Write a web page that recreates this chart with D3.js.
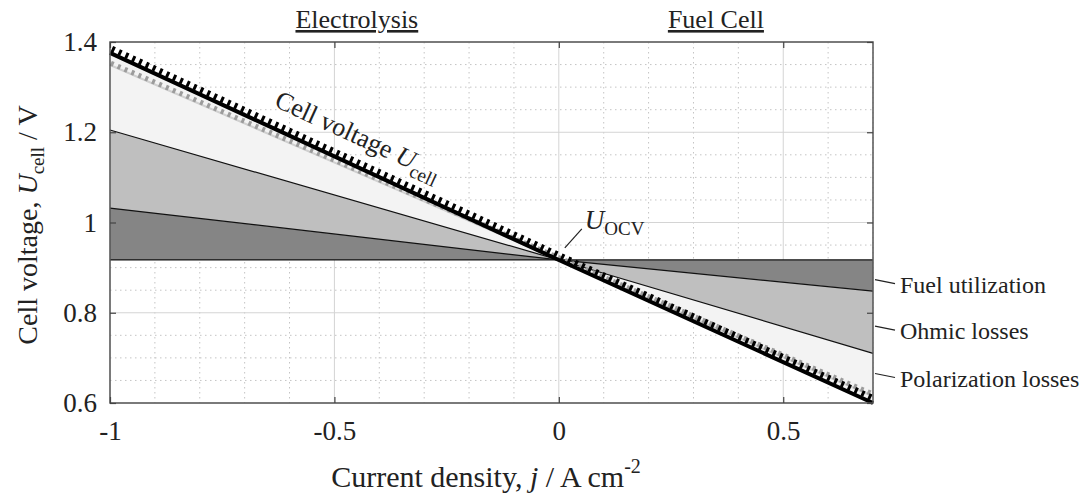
<!DOCTYPE html>
<html>
<head>
<meta charset="utf-8">
<script src="https://cdn.jsdelivr.net/npm/d3@7"></script>
<style>
  body { margin: 0; background: #fff; }
  text { font-family: "Liberation Serif", "Times New Roman", serif; fill: #222; }
</style>
</head>
<body>
<svg id="chart" width="1085" height="498"></svg>
<script>
// current density j (A cm^-2) at the three break points of the diagram
const currentDensity = [-1, 0, 0.7];
// voltages (V)
const ocvVoltage = [0.917, 0.917, 0.917];
const fuelUtilVoltage = [1.032, 0.917, 0.848];
const ohmicVoltage = [1.205, 0.917, 0.710];
const cellVoltage = [1.376, 0.917, 0.600];
const refVoltage = [1.349, 0.917, 0.615];

const xTicks = [-1, -0.5, 0, 0.5];
const xTickLabels = ['-1', '-0.5', '0', '0.5'];
const yTicks = [0.6, 0.8, 1, 1.2, 1.4];
const yTickLabels = ['0.6', '0.8', '1', '1.2', '1.4'];

const modeNames = ['Electrolysis', 'Fuel Cell'];
const modeCenters = [-0.45, 0.35];
const lossNames = ['Fuel utilization', 'Ohmic losses', 'Polarization losses'];
const lossLabelAt = [0.88, 0.777, 0.672]; // voltage where each leader meets the frame

const svg = d3.select('#chart');
const plotL = 110, plotR = 873, plotT = 42, plotB = 403;

const x = d3.scaleLinear().domain([-1, 0.7]).range([plotL, plotR]);
const y = d3.scaleLinear().domain([0.6, 1.4]).range([plotB, plotT]);

const pts = (vals) => currentDensity.map((j, i) => ({ j, v: vals[i] }));

// grid
let grid = svg.append('g');
x.ticks(17).forEach(t => {
	let major = xTicks.some(m => Math.abs(m - t) < 1e-9);
	grid.append('line')
		.attr('x1', x(t)).attr('x2', x(t)).attr('y1', plotT).attr('y2', plotB)
		.attr('stroke', major ? '#d4d4d4' : '#c4c4c4')
		.attr('stroke-width', 1)
		.attr('stroke-dasharray', major ? null : '1.5,3.5');
});
y.ticks(16).forEach(t => {
	let major = yTicks.some(m => Math.abs(m - t) < 1e-9);
	grid.append('line')
		.attr('x1', plotL).attr('x2', plotR).attr('y1', y(t)).attr('y2', y(t))
		.attr('stroke', major ? '#d4d4d4' : '#c4c4c4')
		.attr('stroke-width', 1)
		.attr('stroke-dasharray', major ? null : '1.5,3.5');
});

// shaded loss regions
const band = (lo, hi) => d3.area()
	.x((d, i) => x(currentDensity[i]))
	.y0((d, i) => y(lo[i]))
	.y1((d, i) => y(hi[i]))(currentDensity);

svg.append('path').attr('d', band(ohmicVoltage, cellVoltage)).attr('fill', '#f3f3f3');
svg.append('path').attr('d', band(fuelUtilVoltage, ohmicVoltage)).attr('fill', '#bfbfbf');
svg.append('path').attr('d', band(ocvVoltage, fuelUtilVoltage)).attr('fill', '#858585');

const line = d3.line().x(d => x(d.j)).y(d => y(d.v));

[ocvVoltage, fuelUtilVoltage, ohmicVoltage].forEach(vals => {
	svg.append('path').attr('d', line(pts(vals)))
		.attr('fill', 'none').attr('stroke', '#111').attr('stroke-width', 1.2);
});

// unit normal pointing up-right of the cell voltage line (pixel space)
let dx = x(currentDensity[2]) - x(currentDensity[0]),
	dy = y(cellVoltage[2]) - y(cellVoltage[0]),
	len = Math.hypot(dx, dy),
	nx = dy / len, ny = -dx / len,
	angle = Math.atan2(dy, dx) * 180 / Math.PI;

// grey reference line
svg.append('path').attr('d', line(pts(refVoltage)))
	.attr('fill', 'none').attr('stroke', '#d0d0d0').attr('stroke-width', 2);
svg.append('path').attr('d', line(pts(refVoltage)))
	.attr('fill', 'none').attr('stroke', '#9c9c9c').attr('stroke-width', 5)
	.attr('stroke-dasharray', '3,4.5')
	.attr('transform', `translate(${nx * 2},${ny * 2})`);

// black comb line: cell voltage
svg.append('path').attr('d', line(pts(cellVoltage)))
	.attr('fill', 'none').attr('stroke', '#000').attr('stroke-width', 4);
svg.append('path').attr('d', line(pts(cellVoltage)))
	.attr('fill', 'none').attr('stroke', '#000').attr('stroke-width', 6)
	.attr('stroke-dasharray', '3,4.5')
	.attr('transform', `translate(${nx * 4.5},${ny * 4.5})`);

// frame
svg.append('rect')
	.attr('x', plotL).attr('y', plotT).attr('width', plotR - plotL).attr('height', plotB - plotT)
	.attr('fill', 'none').attr('stroke', '#555').attr('stroke-width', 1.5);

// axes
const styleAxis = g => {
	g.select('.domain').remove();
	g.selectAll('.tick line').attr('stroke', '#444').attr('stroke-width', 1.2);
	g.selectAll('text').attr('fill', '#222').style('font-size', '27px')
		.style('font-family', '"Liberation Serif", "Times New Roman", serif');
};
svg.append('g').attr('transform', `translate(0,${plotB})`)
	.call(d3.axisBottom(x).tickValues(xTicks).tickSize(-6)
		.tickFormat((d, i) => xTickLabels[i]))
	.call(styleAxis)
	.call(g => g.selectAll('text').attr('y', 37).attr('dy', null));
svg.append('g').attr('transform', `translate(0,${plotT})`)
	.call(d3.axisTop(x).tickValues(xTicks).tickSize(-6).tickFormat(''))
	.call(styleAxis);
svg.append('g').attr('transform', `translate(${plotL},0)`)
	.call(d3.axisLeft(y).tickValues(yTicks).tickSize(-6).tickPadding(13)
		.tickFormat((d, i) => yTickLabels[i]))
	.call(styleAxis);
svg.append('g').attr('transform', `translate(${plotR},0)`)
	.call(d3.axisRight(y).tickValues(yTicks).tickSize(-6).tickFormat(''))
	.call(styleAxis);

// mode titles above the plot
modeNames.forEach((name, i) => {
	svg.append('text')
		.attr('x', x(modeCenters[i])).attr('y', 28)
		.attr('text-anchor', 'middle')
		.style('font-size', '26px')
		.style('text-decoration', 'underline')
		.text(name);
});

// loss labels on the right with leader lines
lossNames.forEach((name, i) => {
	let ly = y(lossLabelAt[i]) + 3;
	svg.append('line')
		.attr('x1', plotR + 2).attr('x2', plotR + 22)
		.attr('y1', ly).attr('y2', ly + 4)
		.attr('stroke', '#222').attr('stroke-width', 1.2);
	svg.append('text')
		.attr('x', plotR + 27).attr('y', ly + 13)
		.style('font-size', '24px')
		.text(name);
});

// U_OCV annotation
let ox = x(0), oy = y(ocvVoltage[1]);
svg.append('line')
	.attr('x1', ox + 6).attr('y1', oy - 12)
	.attr('x2', ox + 23).attr('y2', oy - 31)
	.attr('stroke', '#222').attr('stroke-width', 1.2);
let ocvText = svg.append('text')
	.attr('x', ox + 26).attr('y', oy - 31)
	.style('font-size', '27px');
ocvText.append('tspan').style('font-style', 'italic').text('U');
ocvText.append('tspan').attr('dy', 6).style('font-size', '19px').text('OCV');

// rotated label along the cell voltage line
let j0 = -0.655,
	px = x(j0) + nx * 20,
	py = y(d3.scaleLinear().domain([currentDensity[0], currentDensity[1]])
		.range([cellVoltage[0], cellVoltage[1]])(j0)) + ny * 20;
let cvText = svg.append('text')
	.attr('transform', `translate(${px},${py}) rotate(${angle})`)
	.style('font-size', '26px');
cvText.append('tspan').text('Cell voltage ');
cvText.append('tspan').style('font-style', 'italic').text('U');
cvText.append('tspan').attr('dy', 7).style('font-size', '19px').text('cell');

// axis titles
let xTitle = svg.append('text')
	.attr('x', 486).attr('y', 487)
	.attr('text-anchor', 'middle')
	.style('font-size', '30px');
xTitle.append('tspan').text('Current density, ');
xTitle.append('tspan').style('font-style', 'italic').text('j');
xTitle.append('tspan').text(' / A cm');
xTitle.append('tspan').attr('dy', -14).style('font-size', '20px').text('-2');

let yTitle = svg.append('text')
	.attr('transform', 'translate(37,225) rotate(-90)')
	.attr('text-anchor', 'middle')
	.style('font-size', '28px');
yTitle.append('tspan').text('Cell voltage, ');
yTitle.append('tspan').style('font-style', 'italic').text('U');
yTitle.append('tspan').attr('dy', 7).style('font-size', '19px').text('cell');
yTitle.append('tspan').attr('dy', -7).text(' / V');
</script>
</body>
</html>
